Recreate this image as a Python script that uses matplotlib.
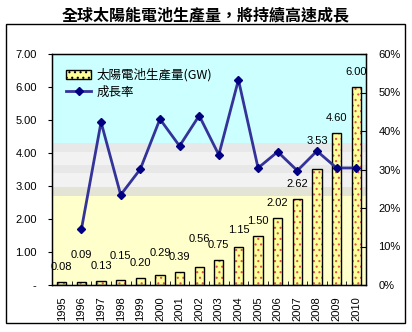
import matplotlib.pyplot as plt
from matplotlib.patches import Rectangle, Patch
from matplotlib.lines import Line2D
import numpy as np

plt.rcParams['font.family'] = ['Liberation Sans', 'Noto Sans CJK TC', 'DejaVu Sans']
plt.rcParams['hatch.linewidth'] = 0.8

years = ['1995', '1996', '1997', '1998', '1999', '2000', '2001', '2002',
         '2003', '2004', '2005', '2006', '2007', '2008', '2009', '2010']
production = [0.08, 0.09, 0.13, 0.15, 0.20, 0.29, 0.39, 0.56,
              0.75, 1.15, 1.50, 2.02, 2.62, 3.53, 4.60, 6.00]
growth = [np.nan, 14.5, 42.3, 23.4, 30.1, 43.1, 36.1, 44.0,
          33.8, 53.3, 30.4, 34.6, 29.7, 34.8, 30.4, 30.4]

# how far each value label sits above its bar (pixels)
label_lift = [15, 27, 15, 24, 15, 22, 15, 28, 15, 17, 14, 15, 15, 28, 15, 15]

fig = plt.figure(figsize=(4.12, 3.32), dpi=100)
fig.patches.append(Rectangle((6 / 412, 1 - 323 / 332), 399 / 412, 299 / 332,
                             transform=fig.transFigure, fill=False,
                             edgecolor='black', linewidth=1))
fig.text(0.5, 1 - 15 / 332, '全球太陽能電池生產量，將持續高速成長',
         ha='center', va='center', fontsize=11.5, fontweight='bold',
         family=['Noto Sans CJK TC', 'DejaVu Sans'])

ax = fig.add_axes([52 / 412, 1 - 285 / 332, 314 / 412, 231 / 332])
x = np.arange(len(years))

# background bands
bands = [(4.31, 7.0, '#CCFFFF'), (4.04, 4.31, '#E8E8E8'), (3.64, 4.04, '#F2F2F2'),
         (3.38, 3.64, '#E8E8E8'), (2.98, 3.38, '#F2F2F2'), (2.71, 2.98, '#E4E4D6'),
         (0, 2.71, '#FFFFCC')]
for lo, hi, c in bands:
    ax.axhspan(lo, hi, color=c, zorder=0, linewidth=0)

ax.bar(x, production, width=0.47, color='#FFFF99', edgecolor='#E05050',
       hatch='...', linewidth=0, zorder=2)
ax.bar(x, production, width=0.47, fill=False, edgecolor='black',
       linewidth=1, zorder=3)

for i, v in enumerate(production):
    ax.annotate(f'{v:.2f}', (x[i], v), xytext=(0, label_lift[i] * 0.72),
                textcoords='offset points', ha='center', va='center',
                fontsize=8, zorder=5)

ax.set_xlim(-0.5, len(years) - 0.5)
ax.set_ylim(0, 7)
ax.set_yticks(np.arange(0, 8, 1))
ax.set_yticklabels(['-'] + [f'{v:.2f}' for v in range(1, 8)], fontsize=8)
ax.tick_params(axis='y', direction='out', length=3, pad=8)
ax.set_xticks(x)
ax.set_xticklabels(years, rotation=90, fontsize=8)
ax.set_xticks(np.arange(-0.5, len(years), 1), minor=True)
ax.tick_params(axis='x', which='major', length=0, pad=8)
ax.tick_params(axis='x', which='minor', direction='in', length=3)
for s in ax.spines.values():
    s.set_linewidth(1)

ax2 = ax.twinx()
ax2.plot(x, growth, color='#333399', linewidth=2, marker='D', markersize=4.5,
         markerfacecolor='#000080', markeredgecolor='#000080', zorder=4)
ax2.set_ylim(0, 60)
ax2.set_yticks(np.arange(0, 61, 10))
ax2.set_yticklabels([f'{v}%' for v in range(0, 61, 10)], fontsize=8)
ax2.tick_params(axis='y', direction='in', length=4, pad=9)

handles = [Patch(facecolor='#FFFF99', edgecolor='black', hatch='...', linewidth=1),
           Line2D([], [], color='#333399', linewidth=2, marker='D', markersize=4.5,
                  markerfacecolor='#000080', markeredgecolor='#000080')]
ax2.legend(handles, ['太陽電池生產量(GW)', '成長率'], loc='upper left',
           bbox_to_anchor=(0.03, 0.96), frameon=False,
           prop={'family': ['Noto Sans CJK TC', 'DejaVu Sans'], 'size': 9},
           handlelength=2.0, handletextpad=0.4, labelspacing=0.3,
           borderaxespad=0)

fig.savefig('out.png', dpi=100)
